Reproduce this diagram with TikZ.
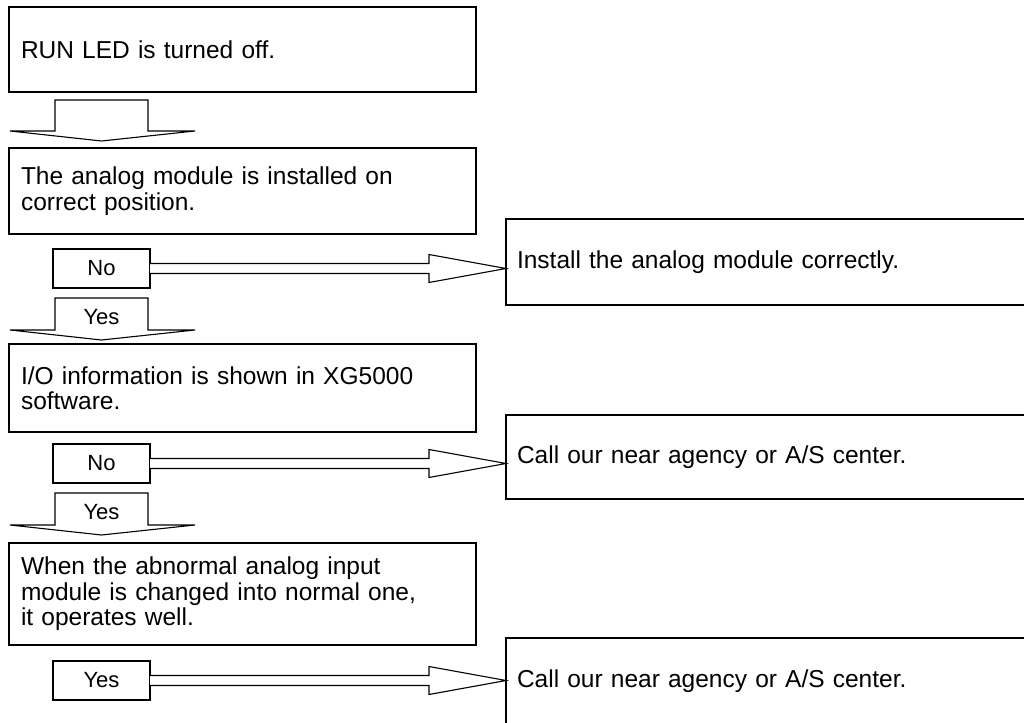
\documentclass[tikz,border=0pt]{standalone}
\usepackage{fontspec}
\setmainfont{Liberation Sans}
\usetikzlibrary{calc}
\newcommand\mainsz{\fontsize{24.5}{25.5}\selectfont}
\newcommand\smallsz{\fontsize{22}{24}\selectfont}
\tikzset{
  bigbox/.style={draw, line width=2.6pt, anchor=north west, outer sep=0pt,
    inner xsep=12pt, inner ysep=0pt, align=left, font=\mainsz},
  rightbox/.style={draw, line width=2.6pt, anchor=north west, outer sep=0pt,
    inner xsep=11pt, inner ysep=0pt, align=left, font=\mainsz,
    text width=520pt},
  smallbox/.style={draw, line width=1.1pt, anchor=north west, outer sep=0pt,
    inner sep=0pt, minimum width=97pt, minimum height=39pt, font=\smallsz},
  hollow/.style={draw, line width=1.1pt, fill=white, line join=miter},
  yeslabel/.style={font=\smallsz, inner sep=0pt}
}
\newcommand\dnarrow[3]{% cx, top, shoulder
  \draw[hollow] (#1-46.5,#2) -- (#1+46.5,#2) -- (#1+46.5,#3) -- (#1+93.5,#3)
    -- (#1,#3+10) -- (#1-91.5,#3) -- (#1-46.5,#3) -- cycle;}
\newcommand\dblarrow[2]{%
  \draw[hollow] ($(#1.east)+(0,-5)$) -- ($(#2.west |- #1.east)+(-77,-5)$)
    -- ++(0,-9) -- (#2.west |- #1.east) -- ($(#2.west |- #1.east)+(-77,14)$)
    -- ++(0,-9) -- ($(#1.east)+(0,5)$);}
\begin{document}
\begin{tikzpicture}[x=1pt,y=-1pt]
\useasboundingbox (0,0) rectangle (1024,722);
\clip (0,0) rectangle (1024,722);
\fill[white] (0,0) rectangle (1024,722);

% main boxes
\node[bigbox, text width=443pt, minimum height=85pt] (b1) at (9,7)
  {RUN LED is turned off.};
\node[bigbox, text width=443pt, minimum height=86pt] (b2) at (9,148)
  {The analog module is installed on\\correct position.};
\node[bigbox, text width=443pt, minimum height=88pt] (b3) at (9,344)
  {I/O information is shown in XG5000\\software.};
\node[bigbox, text width=443pt, minimum height=102pt] (b4) at (9,543)
  {When the abnormal analog input\\module is changed into normal one,\\it operates well.};

% right boxes
\node[rightbox, minimum height=86pt] (r1) at (506,219)
  {Install the analog module correctly.};
\node[rightbox, minimum height=84pt] (r2) at (506,415)
  {Call our near agency or A/S center.};
\node[rightbox, minimum height=86pt] (r3) at (506,638)
  {Call our near agency or A/S center.};

% down arrows
\dnarrow{101.5}{100}{131}
\dnarrow{101.5}{298}{330}
\node[yeslabel] (y1) at (101.5,317) {Yes};
\dnarrow{101.5}{493}{525}
\node[yeslabel] (y2) at (101.5,512) {Yes};

% side decision boxes
\node[smallbox] (n1) at (53,249) {No};
\node[smallbox] (n2) at (53,444) {No};
\node[smallbox] (y3) at (53,661) {Yes};

\dblarrow{n1}{r1}
\dblarrow{n2}{r2}
\dblarrow{y3}{r3}
\end{tikzpicture}
\end{document}
